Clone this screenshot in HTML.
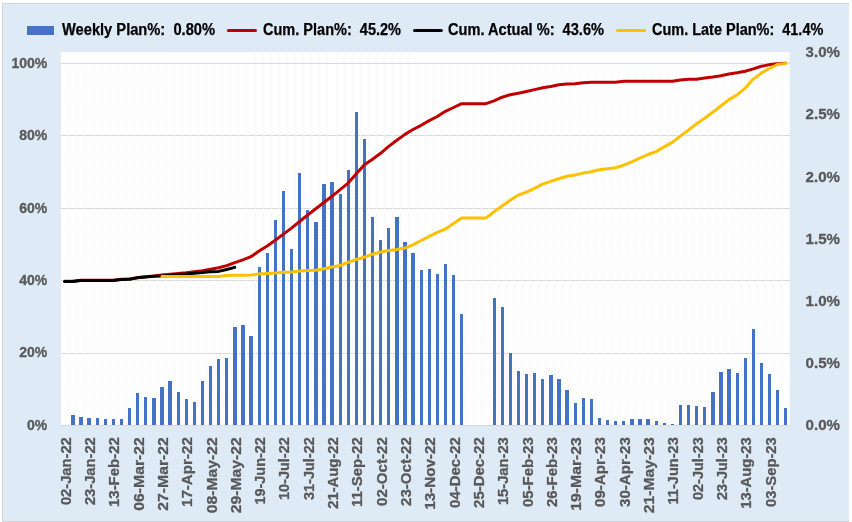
<!DOCTYPE html><html><head><meta charset="utf-8"><style>
html,body{margin:0;padding:0;background:#fff;width:852px;height:522px;overflow:hidden}
svg{display:block;will-change:transform}
text{font-family:"Liberation Sans",sans-serif;font-weight:bold;white-space:pre}
</style></head><body>
<svg width="852" height="522" viewBox="0 0 852 522">
<rect x="3" y="4" width="846" height="517" fill="#DEEBF7"/>
<rect x="2" y="3" width="847" height="1" fill="#D4D4D4"/>
<rect x="2" y="3" width="1" height="519" fill="#D4D4D4"/>
<rect x="2" y="521" width="847" height="1" fill="#D4D4D4"/>
<rect x="61" y="52" width="729" height="373" fill="#FFFFFF"/>
<path d="M60.5 52V425M68.5 52V425M76.5 52V425M84.5 52V425M93.5 52V425M101.5 52V425M109.5 52V425M117.5 52V425M125.5 52V425M133.5 52V425M141.5 52V425M149.5 52V425M157.5 52V425M165.5 52V425M174.5 52V425M182.5 52V425M190.5 52V425M198.5 52V425M206.5 52V425M214.5 52V425M222.5 52V425M230.5 52V425M238.5 52V425M246.5 52V425M255.5 52V425M263.5 52V425M271.5 52V425M279.5 52V425M287.5 52V425M295.5 52V425M303.5 52V425M311.5 52V425M319.5 52V425M327.5 52V425M336.5 52V425M344.5 52V425M352.5 52V425M360.5 52V425M368.5 52V425M376.5 52V425M384.5 52V425M392.5 52V425M400.5 52V425M408.5 52V425M417.5 52V425M425.5 52V425M433.5 52V425M441.5 52V425M449.5 52V425M457.5 52V425M465.5 52V425M473.5 52V425M481.5 52V425M489.5 52V425M498.5 52V425M506.5 52V425M514.5 52V425M522.5 52V425M530.5 52V425M538.5 52V425M546.5 52V425M554.5 52V425M562.5 52V425M570.5 52V425M579.5 52V425M587.5 52V425M595.5 52V425M603.5 52V425M611.5 52V425M619.5 52V425M627.5 52V425M635.5 52V425M643.5 52V425M651.5 52V425M660.5 52V425M668.5 52V425M676.5 52V425M684.5 52V425M692.5 52V425M700.5 52V425M708.5 52V425M716.5 52V425M724.5 52V425M732.5 52V425M741.5 52V425M749.5 52V425M757.5 52V425M765.5 52V425M773.5 52V425M781.5 52V425M789.5 52V425" stroke="#EEEEEE" stroke-width="1" stroke-dasharray="1 1.9" fill="none"/>
<rect x="61" y="63" width="729" height="1" fill="#D9D9D9"/>
<rect x="61" y="135" width="729" height="1" fill="#D9D9D9"/>
<rect x="61" y="208" width="729" height="1" fill="#D9D9D9"/>
<rect x="61" y="280" width="729" height="1" fill="#D9D9D9"/>
<rect x="61" y="353" width="729" height="1" fill="#D9D9D9"/>
<path d="M68 135h1v1h-1ZM68 208h1v1h-1ZM68 280h1v1h-1ZM68 353h1v1h-1ZM76 135h1v1h-1ZM76 208h1v1h-1ZM76 280h1v1h-1ZM76 353h1v1h-1ZM84 135h1v1h-1ZM84 208h1v1h-1ZM84 280h1v1h-1ZM84 353h1v1h-1ZM93 135h1v1h-1ZM93 208h1v1h-1ZM93 280h1v1h-1ZM93 353h1v1h-1ZM101 135h1v1h-1ZM101 208h1v1h-1ZM101 280h1v1h-1ZM101 353h1v1h-1ZM109 135h1v1h-1ZM109 208h1v1h-1ZM109 280h1v1h-1ZM109 353h1v1h-1ZM117 135h1v1h-1ZM117 208h1v1h-1ZM117 280h1v1h-1ZM117 353h1v1h-1ZM125 135h1v1h-1ZM125 208h1v1h-1ZM125 280h1v1h-1ZM125 353h1v1h-1ZM133 135h1v1h-1ZM133 208h1v1h-1ZM133 280h1v1h-1ZM133 353h1v1h-1ZM141 135h1v1h-1ZM141 208h1v1h-1ZM141 280h1v1h-1ZM141 353h1v1h-1ZM149 135h1v1h-1ZM149 208h1v1h-1ZM149 280h1v1h-1ZM149 353h1v1h-1ZM157 135h1v1h-1ZM157 208h1v1h-1ZM157 280h1v1h-1ZM157 353h1v1h-1ZM165 135h1v1h-1ZM165 208h1v1h-1ZM165 280h1v1h-1ZM165 353h1v1h-1ZM174 135h1v1h-1ZM174 208h1v1h-1ZM174 280h1v1h-1ZM174 353h1v1h-1ZM182 135h1v1h-1ZM182 208h1v1h-1ZM182 280h1v1h-1ZM182 353h1v1h-1ZM190 135h1v1h-1ZM190 208h1v1h-1ZM190 280h1v1h-1ZM190 353h1v1h-1ZM198 135h1v1h-1ZM198 208h1v1h-1ZM198 280h1v1h-1ZM198 353h1v1h-1ZM206 135h1v1h-1ZM206 208h1v1h-1ZM206 280h1v1h-1ZM206 353h1v1h-1ZM214 135h1v1h-1ZM214 208h1v1h-1ZM214 280h1v1h-1ZM214 353h1v1h-1ZM222 135h1v1h-1ZM222 208h1v1h-1ZM222 280h1v1h-1ZM222 353h1v1h-1ZM230 135h1v1h-1ZM230 208h1v1h-1ZM230 280h1v1h-1ZM230 353h1v1h-1ZM238 135h1v1h-1ZM238 208h1v1h-1ZM238 280h1v1h-1ZM238 353h1v1h-1ZM246 135h1v1h-1ZM246 208h1v1h-1ZM246 280h1v1h-1ZM246 353h1v1h-1ZM255 135h1v1h-1ZM255 208h1v1h-1ZM255 280h1v1h-1ZM255 353h1v1h-1ZM263 135h1v1h-1ZM263 208h1v1h-1ZM263 280h1v1h-1ZM263 353h1v1h-1ZM271 135h1v1h-1ZM271 208h1v1h-1ZM271 280h1v1h-1ZM271 353h1v1h-1ZM279 135h1v1h-1ZM279 208h1v1h-1ZM279 280h1v1h-1ZM279 353h1v1h-1ZM287 135h1v1h-1ZM287 208h1v1h-1ZM287 280h1v1h-1ZM287 353h1v1h-1ZM295 135h1v1h-1ZM295 208h1v1h-1ZM295 280h1v1h-1ZM295 353h1v1h-1ZM303 135h1v1h-1ZM303 208h1v1h-1ZM303 280h1v1h-1ZM303 353h1v1h-1ZM311 135h1v1h-1ZM311 208h1v1h-1ZM311 280h1v1h-1ZM311 353h1v1h-1ZM319 135h1v1h-1ZM319 208h1v1h-1ZM319 280h1v1h-1ZM319 353h1v1h-1ZM327 135h1v1h-1ZM327 208h1v1h-1ZM327 280h1v1h-1ZM327 353h1v1h-1ZM336 135h1v1h-1ZM336 208h1v1h-1ZM336 280h1v1h-1ZM336 353h1v1h-1ZM344 135h1v1h-1ZM344 208h1v1h-1ZM344 280h1v1h-1ZM344 353h1v1h-1ZM352 135h1v1h-1ZM352 208h1v1h-1ZM352 280h1v1h-1ZM352 353h1v1h-1ZM360 135h1v1h-1ZM360 208h1v1h-1ZM360 280h1v1h-1ZM360 353h1v1h-1ZM368 135h1v1h-1ZM368 208h1v1h-1ZM368 280h1v1h-1ZM368 353h1v1h-1ZM376 135h1v1h-1ZM376 208h1v1h-1ZM376 280h1v1h-1ZM376 353h1v1h-1ZM384 135h1v1h-1ZM384 208h1v1h-1ZM384 280h1v1h-1ZM384 353h1v1h-1ZM392 135h1v1h-1ZM392 208h1v1h-1ZM392 280h1v1h-1ZM392 353h1v1h-1ZM400 135h1v1h-1ZM400 208h1v1h-1ZM400 280h1v1h-1ZM400 353h1v1h-1ZM408 135h1v1h-1ZM408 208h1v1h-1ZM408 280h1v1h-1ZM408 353h1v1h-1ZM417 135h1v1h-1ZM417 208h1v1h-1ZM417 280h1v1h-1ZM417 353h1v1h-1ZM425 135h1v1h-1ZM425 208h1v1h-1ZM425 280h1v1h-1ZM425 353h1v1h-1ZM433 135h1v1h-1ZM433 208h1v1h-1ZM433 280h1v1h-1ZM433 353h1v1h-1ZM441 135h1v1h-1ZM441 208h1v1h-1ZM441 280h1v1h-1ZM441 353h1v1h-1ZM449 135h1v1h-1ZM449 208h1v1h-1ZM449 280h1v1h-1ZM449 353h1v1h-1ZM457 135h1v1h-1ZM457 208h1v1h-1ZM457 280h1v1h-1ZM457 353h1v1h-1ZM465 135h1v1h-1ZM465 208h1v1h-1ZM465 280h1v1h-1ZM465 353h1v1h-1ZM473 135h1v1h-1ZM473 208h1v1h-1ZM473 280h1v1h-1ZM473 353h1v1h-1ZM481 135h1v1h-1ZM481 208h1v1h-1ZM481 280h1v1h-1ZM481 353h1v1h-1ZM489 135h1v1h-1ZM489 208h1v1h-1ZM489 280h1v1h-1ZM489 353h1v1h-1ZM498 135h1v1h-1ZM498 208h1v1h-1ZM498 280h1v1h-1ZM498 353h1v1h-1ZM506 135h1v1h-1ZM506 208h1v1h-1ZM506 280h1v1h-1ZM506 353h1v1h-1ZM514 135h1v1h-1ZM514 208h1v1h-1ZM514 280h1v1h-1ZM514 353h1v1h-1ZM522 135h1v1h-1ZM522 208h1v1h-1ZM522 280h1v1h-1ZM522 353h1v1h-1ZM530 135h1v1h-1ZM530 208h1v1h-1ZM530 280h1v1h-1ZM530 353h1v1h-1ZM538 135h1v1h-1ZM538 208h1v1h-1ZM538 280h1v1h-1ZM538 353h1v1h-1ZM546 135h1v1h-1ZM546 208h1v1h-1ZM546 280h1v1h-1ZM546 353h1v1h-1ZM554 135h1v1h-1ZM554 208h1v1h-1ZM554 280h1v1h-1ZM554 353h1v1h-1ZM562 135h1v1h-1ZM562 208h1v1h-1ZM562 280h1v1h-1ZM562 353h1v1h-1ZM570 135h1v1h-1ZM570 208h1v1h-1ZM570 280h1v1h-1ZM570 353h1v1h-1ZM579 135h1v1h-1ZM579 208h1v1h-1ZM579 280h1v1h-1ZM579 353h1v1h-1ZM587 135h1v1h-1ZM587 208h1v1h-1ZM587 280h1v1h-1ZM587 353h1v1h-1ZM595 135h1v1h-1ZM595 208h1v1h-1ZM595 280h1v1h-1ZM595 353h1v1h-1ZM603 135h1v1h-1ZM603 208h1v1h-1ZM603 280h1v1h-1ZM603 353h1v1h-1ZM611 135h1v1h-1ZM611 208h1v1h-1ZM611 280h1v1h-1ZM611 353h1v1h-1ZM619 135h1v1h-1ZM619 208h1v1h-1ZM619 280h1v1h-1ZM619 353h1v1h-1ZM627 135h1v1h-1ZM627 208h1v1h-1ZM627 280h1v1h-1ZM627 353h1v1h-1ZM635 135h1v1h-1ZM635 208h1v1h-1ZM635 280h1v1h-1ZM635 353h1v1h-1ZM643 135h1v1h-1ZM643 208h1v1h-1ZM643 280h1v1h-1ZM643 353h1v1h-1ZM651 135h1v1h-1ZM651 208h1v1h-1ZM651 280h1v1h-1ZM651 353h1v1h-1ZM660 135h1v1h-1ZM660 208h1v1h-1ZM660 280h1v1h-1ZM660 353h1v1h-1ZM668 135h1v1h-1ZM668 208h1v1h-1ZM668 280h1v1h-1ZM668 353h1v1h-1ZM676 135h1v1h-1ZM676 208h1v1h-1ZM676 280h1v1h-1ZM676 353h1v1h-1ZM684 135h1v1h-1ZM684 208h1v1h-1ZM684 280h1v1h-1ZM684 353h1v1h-1ZM692 135h1v1h-1ZM692 208h1v1h-1ZM692 280h1v1h-1ZM692 353h1v1h-1ZM700 135h1v1h-1ZM700 208h1v1h-1ZM700 280h1v1h-1ZM700 353h1v1h-1ZM708 135h1v1h-1ZM708 208h1v1h-1ZM708 280h1v1h-1ZM708 353h1v1h-1ZM716 135h1v1h-1ZM716 208h1v1h-1ZM716 280h1v1h-1ZM716 353h1v1h-1ZM724 135h1v1h-1ZM724 208h1v1h-1ZM724 280h1v1h-1ZM724 353h1v1h-1ZM732 135h1v1h-1ZM732 208h1v1h-1ZM732 280h1v1h-1ZM732 353h1v1h-1ZM741 135h1v1h-1ZM741 208h1v1h-1ZM741 280h1v1h-1ZM741 353h1v1h-1ZM749 135h1v1h-1ZM749 208h1v1h-1ZM749 280h1v1h-1ZM749 353h1v1h-1ZM757 135h1v1h-1ZM757 208h1v1h-1ZM757 280h1v1h-1ZM757 353h1v1h-1ZM765 135h1v1h-1ZM765 208h1v1h-1ZM765 280h1v1h-1ZM765 353h1v1h-1ZM773 135h1v1h-1ZM773 208h1v1h-1ZM773 280h1v1h-1ZM773 353h1v1h-1ZM781 135h1v1h-1ZM781 208h1v1h-1ZM781 280h1v1h-1ZM781 353h1v1h-1Z" fill="#FFFFFF" fill-opacity="0.75"/>
<path d="M71 415H75V425H71ZM79 417H83V425H79ZM87 418H91V425H87ZM96 418H99V425H96ZM104 419H107V425H104ZM112 419H115V425H112ZM120 419H123V425H120ZM128 408H131V425H128ZM136 393H139V425H136ZM144 397H147V425H144ZM152 398H156V425H152ZM160 387H164V425H160ZM168 381H172V425H168ZM177 392H180V425H177ZM185 399H188V425H185ZM193 402H196V425H193ZM201 381H204V425H201ZM209 366H212V425H209ZM217 359H220V425H217ZM225 358H228V425H225ZM233 327H237V425H233ZM241 325H245V425H241ZM249 336H253V425H249ZM258 267H261V425H258ZM266 253H269V425H266ZM274 220H277V425H274ZM282 191H285V425H282ZM290 249H293V425H290ZM298 173H301V425H298ZM306 210H309V425H306ZM314 222H318V425H314ZM322 184H326V425H322ZM330 182H334V425H330ZM339 194H342V425H339ZM347 170H350V425H347ZM355 112H358V425H355ZM363 139H366V425H363ZM371 217H374V425H371ZM379 240H382V425H379ZM387 228H390V425H387ZM395 217H399V425H395ZM403 242H407V425H403ZM411 253H415V425H411ZM420 270H423V425H420ZM428 269H431V425H428ZM436 274H439V425H436ZM444 264H447V425H444ZM452 275H455V425H452ZM460 314H463V425H460ZM493 298H496V425H493ZM501 307H504V425H501ZM509 353H512V425H509ZM517 371H520V425H517ZM525 374H528V425H525ZM533 373H536V425H533ZM541 379H544V425H541ZM549 375H553V425H549ZM557 379H561V425H557ZM565 390H569V425H565ZM574 403H577V425H574ZM582 398H585V425H582ZM590 399H593V425H590ZM598 418H601V425H598ZM606 420H609V425H606ZM614 421H617V425H614ZM622 421H625V425H622ZM630 419H634V425H630ZM638 419H642V425H638ZM646 419H650V425H646ZM655 421H658V425H655ZM663 423H666V425H663ZM671 424H674V425H671ZM679 405H682V425H679ZM687 405H690V425H687ZM695 406H698V425H695ZM703 407H706V425H703ZM711 392H715V425H711ZM719 372H723V425H719ZM727 369H731V425H727ZM736 373H739V425H736ZM744 358H747V425H744ZM752 329H755V425H752ZM760 363H763V425H760ZM768 374H771V425H768ZM776 390H779V425H776ZM784 408H787V425H784Z" fill="#4472C4" shape-rendering="crispEdges"/>
<rect x="61" y="425" width="729" height="1" fill="#D9D9D9"/>
<polyline points="64.65,281.30 72.75,281.30 80.85,280.30 88.95,280.30 97.06,280.30 105.16,280.30 113.26,280.30 121.36,279.20 129.46,279.10 137.56,277.60 145.66,276.70 153.76,276.10 161.86,275.10 169.97,274.30 178.07,273.50 186.17,272.70 194.27,271.70 202.37,270.70 210.47,269.30 218.57,267.70 226.67,265.60 234.77,262.70 242.88,259.80 250.98,256.70 259.08,251.00 267.18,246.00 275.28,240.30 283.38,234.10 291.48,228.10 299.58,221.50 307.68,215.00 315.79,208.80 323.89,202.50 331.99,196.30 340.09,189.70 348.19,183.10 356.29,173.80 364.39,164.80 372.49,159.20 380.59,153.30 388.69,146.40 396.80,140.20 404.90,134.40 413.00,129.50 421.10,125.30 429.20,120.60 437.30,116.50 445.40,111.30 453.50,107.50 461.61,103.70 469.71,103.70 477.81,103.70 485.91,103.70 494.01,100.90 502.11,97.20 510.21,94.70 518.31,93.20 526.41,91.50 534.51,89.60 542.62,87.70 550.72,86.50 558.82,84.70 566.92,84.10 575.02,83.80 583.12,82.80 591.22,82.20 599.32,82.20 607.42,82.20 615.53,82.20 623.63,81.30 631.73,81.30 639.83,81.30 647.93,81.30 656.03,81.30 664.13,81.30 672.23,81.20 680.34,80.00 688.44,79.20 696.54,79.20 704.64,77.90 712.74,76.90 720.84,75.70 728.94,74.00 737.04,72.80 745.14,71.20 753.25,68.90 761.35,66.30 769.45,64.60 777.55,63.70 785.65,63.30" fill="none" stroke="#C00000" stroke-width="3" stroke-linejoin="round" stroke-linecap="round"/>
<polyline points="64.65,281.50 72.75,281.50 80.85,280.50 88.95,280.50 97.06,280.50 105.16,280.50 113.26,280.50 121.36,279.40 129.46,279.30 137.56,277.80 145.66,276.90 153.76,276.30 161.86,276.10 169.97,275.40 178.07,274.50 186.17,274.10 194.27,273.20 202.37,272.40 210.47,271.70 218.57,271.40 226.67,269.50 234.77,267.40" fill="none" stroke="#000000" stroke-width="3" stroke-linejoin="round" stroke-linecap="round"/>
<polyline points="161.86,276.50 169.97,276.50 178.07,276.50 186.17,276.50 194.27,276.50 202.37,276.50 210.47,276.50 218.57,276.50 226.67,275.60 234.77,275.30 242.88,275.30 250.98,274.90 259.08,274.10 267.18,273.50 275.28,273.00 283.38,272.20 291.48,272.00 299.58,271.10 307.68,270.40 315.79,270.20 323.89,268.80 331.99,267.00 340.09,265.50 348.19,262.30 356.29,259.50 364.39,257.20 372.49,254.20 380.59,252.00 388.69,250.60 396.80,249.50 404.90,248.10 413.00,244.90 421.10,240.50 429.20,236.30 437.30,232.40 445.40,229.00 453.50,223.60 461.61,218.10 469.71,218.10 477.81,218.10 485.91,218.10 494.01,211.70 502.11,206.00 510.21,200.20 518.31,195.10 526.41,192.20 534.51,188.40 542.62,184.20 550.72,181.30 558.82,178.80 566.92,176.20 575.02,175.00 583.12,173.10 591.22,171.80 599.32,169.80 607.42,168.80 615.53,167.70 623.63,165.20 631.73,161.90 639.83,158.10 647.93,154.50 656.03,151.60 664.13,146.90 672.23,142.40 680.34,136.10 688.44,130.10 696.54,123.80 704.64,118.30 712.74,112.30 720.84,106.00 728.94,99.60 737.04,94.90 745.14,88.20 753.25,79.10 761.35,73.10 769.45,68.30 777.55,64.50 785.65,63.40" fill="none" stroke="#FFC000" stroke-width="3" stroke-linejoin="round" stroke-linecap="round"/>
<text x="47.3" y="429.60" font-size="14" fill="#595959" stroke="#595959" stroke-width="0.3" text-anchor="end">0%</text>
<text x="47.3" y="357.32" font-size="14" fill="#595959" stroke="#595959" stroke-width="0.3" text-anchor="end">20%</text>
<text x="47.3" y="285.04" font-size="14" fill="#595959" stroke="#595959" stroke-width="0.3" text-anchor="end">40%</text>
<text x="47.3" y="212.76" font-size="14" fill="#595959" stroke="#595959" stroke-width="0.3" text-anchor="end">60%</text>
<text x="47.3" y="140.48" font-size="14" fill="#595959" stroke="#595959" stroke-width="0.3" text-anchor="end">80%</text>
<text x="47.3" y="68.20" font-size="14" fill="#595959" stroke="#595959" stroke-width="0.3" text-anchor="end">100%</text>
<text x="805.6" y="430.00" font-size="15.5" fill="#595959" stroke="#595959" stroke-width="0.3" textLength="34.4" lengthAdjust="spacingAndGlyphs">0.0%</text>
<text x="805.6" y="367.88" font-size="15.5" fill="#595959" stroke="#595959" stroke-width="0.3" textLength="34.4" lengthAdjust="spacingAndGlyphs">0.5%</text>
<text x="805.6" y="305.76" font-size="15.5" fill="#595959" stroke="#595959" stroke-width="0.3" textLength="34.4" lengthAdjust="spacingAndGlyphs">1.0%</text>
<text x="805.6" y="243.64" font-size="15.5" fill="#595959" stroke="#595959" stroke-width="0.3" textLength="34.4" lengthAdjust="spacingAndGlyphs">1.5%</text>
<text x="805.6" y="181.52" font-size="15.5" fill="#595959" stroke="#595959" stroke-width="0.3" textLength="34.4" lengthAdjust="spacingAndGlyphs">2.0%</text>
<text x="805.6" y="119.40" font-size="15.5" fill="#595959" stroke="#595959" stroke-width="0.3" textLength="34.4" lengthAdjust="spacingAndGlyphs">2.5%</text>
<text x="805.6" y="57.28" font-size="15.5" fill="#595959" stroke="#595959" stroke-width="0.3" textLength="34.4" lengthAdjust="spacingAndGlyphs">3.0%</text>
<text transform="translate(70.75,437.2) rotate(-90)" font-size="15" fill="#595959" stroke="#595959" stroke-width="0.3" text-anchor="end" textLength="67.90" lengthAdjust="spacingAndGlyphs">02-Jan-22</text>
<text transform="translate(95.05,437.2) rotate(-90)" font-size="15" fill="#595959" stroke="#595959" stroke-width="0.3" text-anchor="end" textLength="67.90" lengthAdjust="spacingAndGlyphs">23-Jan-22</text>
<text transform="translate(119.36,437.2) rotate(-90)" font-size="15" fill="#595959" stroke="#595959" stroke-width="0.3" text-anchor="end" textLength="69.80" lengthAdjust="spacingAndGlyphs">13-Feb-22</text>
<text transform="translate(143.66,437.2) rotate(-90)" font-size="15" fill="#595959" stroke="#595959" stroke-width="0.3" text-anchor="end" textLength="73.50" lengthAdjust="spacingAndGlyphs">06-Mar-22</text>
<text transform="translate(167.96,437.2) rotate(-90)" font-size="15" fill="#595959" stroke="#595959" stroke-width="0.3" text-anchor="end" textLength="73.50" lengthAdjust="spacingAndGlyphs">27-Mar-22</text>
<text transform="translate(192.27,437.2) rotate(-90)" font-size="15" fill="#595959" stroke="#595959" stroke-width="0.3" text-anchor="end" textLength="69.80" lengthAdjust="spacingAndGlyphs">17-Apr-22</text>
<text transform="translate(216.57,437.2) rotate(-90)" font-size="15" fill="#595959" stroke="#595959" stroke-width="0.3" text-anchor="end" textLength="76.00" lengthAdjust="spacingAndGlyphs">08-May-22</text>
<text transform="translate(240.87,437.2) rotate(-90)" font-size="15" fill="#595959" stroke="#595959" stroke-width="0.3" text-anchor="end" textLength="76.00" lengthAdjust="spacingAndGlyphs">29-May-22</text>
<text transform="translate(265.18,437.2) rotate(-90)" font-size="15" fill="#595959" stroke="#595959" stroke-width="0.3" text-anchor="end" textLength="67.30" lengthAdjust="spacingAndGlyphs">19-Jun-22</text>
<text transform="translate(289.48,437.2) rotate(-90)" font-size="15" fill="#595959" stroke="#595959" stroke-width="0.3" text-anchor="end" textLength="62.80" lengthAdjust="spacingAndGlyphs">10-Jul-22</text>
<text transform="translate(313.78,437.2) rotate(-90)" font-size="15" fill="#595959" stroke="#595959" stroke-width="0.3" text-anchor="end" textLength="62.80" lengthAdjust="spacingAndGlyphs">31-Jul-22</text>
<text transform="translate(338.09,437.2) rotate(-90)" font-size="15" fill="#595959" stroke="#595959" stroke-width="0.3" text-anchor="end" textLength="71.60" lengthAdjust="spacingAndGlyphs">21-Aug-22</text>
<text transform="translate(362.39,437.2) rotate(-90)" font-size="15" fill="#595959" stroke="#595959" stroke-width="0.3" text-anchor="end" textLength="69.80" lengthAdjust="spacingAndGlyphs">11-Sep-22</text>
<text transform="translate(386.69,437.2) rotate(-90)" font-size="15" fill="#595959" stroke="#595959" stroke-width="0.3" text-anchor="end" textLength="68.80" lengthAdjust="spacingAndGlyphs">02-Oct-22</text>
<text transform="translate(411.00,437.2) rotate(-90)" font-size="15" fill="#595959" stroke="#595959" stroke-width="0.3" text-anchor="end" textLength="68.80" lengthAdjust="spacingAndGlyphs">23-Oct-22</text>
<text transform="translate(435.30,437.2) rotate(-90)" font-size="15" fill="#595959" stroke="#595959" stroke-width="0.3" text-anchor="end" textLength="72.60" lengthAdjust="spacingAndGlyphs">13-Nov-22</text>
<text transform="translate(459.60,437.2) rotate(-90)" font-size="15" fill="#595959" stroke="#595959" stroke-width="0.3" text-anchor="end" textLength="70.70" lengthAdjust="spacingAndGlyphs">04-Dec-22</text>
<text transform="translate(483.91,437.2) rotate(-90)" font-size="15" fill="#595959" stroke="#595959" stroke-width="0.3" text-anchor="end" textLength="70.70" lengthAdjust="spacingAndGlyphs">25-Dec-22</text>
<text transform="translate(508.21,437.2) rotate(-90)" font-size="15" fill="#595959" stroke="#595959" stroke-width="0.3" text-anchor="end" textLength="67.90" lengthAdjust="spacingAndGlyphs">15-Jan-23</text>
<text transform="translate(532.51,437.2) rotate(-90)" font-size="15" fill="#595959" stroke="#595959" stroke-width="0.3" text-anchor="end" textLength="69.80" lengthAdjust="spacingAndGlyphs">05-Feb-23</text>
<text transform="translate(556.82,437.2) rotate(-90)" font-size="15" fill="#595959" stroke="#595959" stroke-width="0.3" text-anchor="end" textLength="69.80" lengthAdjust="spacingAndGlyphs">26-Feb-23</text>
<text transform="translate(581.12,437.2) rotate(-90)" font-size="15" fill="#595959" stroke="#595959" stroke-width="0.3" text-anchor="end" textLength="73.50" lengthAdjust="spacingAndGlyphs">19-Mar-23</text>
<text transform="translate(605.42,437.2) rotate(-90)" font-size="15" fill="#595959" stroke="#595959" stroke-width="0.3" text-anchor="end" textLength="69.80" lengthAdjust="spacingAndGlyphs">09-Apr-23</text>
<text transform="translate(629.73,437.2) rotate(-90)" font-size="15" fill="#595959" stroke="#595959" stroke-width="0.3" text-anchor="end" textLength="69.80" lengthAdjust="spacingAndGlyphs">30-Apr-23</text>
<text transform="translate(654.03,437.2) rotate(-90)" font-size="15" fill="#595959" stroke="#595959" stroke-width="0.3" text-anchor="end" textLength="76.00" lengthAdjust="spacingAndGlyphs">21-May-23</text>
<text transform="translate(678.33,437.2) rotate(-90)" font-size="15" fill="#595959" stroke="#595959" stroke-width="0.3" text-anchor="end" textLength="67.30" lengthAdjust="spacingAndGlyphs">11-Jun-23</text>
<text transform="translate(702.64,437.2) rotate(-90)" font-size="15" fill="#595959" stroke="#595959" stroke-width="0.3" text-anchor="end" textLength="62.80" lengthAdjust="spacingAndGlyphs">02-Jul-23</text>
<text transform="translate(726.94,437.2) rotate(-90)" font-size="15" fill="#595959" stroke="#595959" stroke-width="0.3" text-anchor="end" textLength="62.80" lengthAdjust="spacingAndGlyphs">23-Jul-23</text>
<text transform="translate(751.24,437.2) rotate(-90)" font-size="15" fill="#595959" stroke="#595959" stroke-width="0.3" text-anchor="end" textLength="71.60" lengthAdjust="spacingAndGlyphs">13-Aug-23</text>
<text transform="translate(775.55,437.2) rotate(-90)" font-size="15" fill="#595959" stroke="#595959" stroke-width="0.3" text-anchor="end" textLength="69.80" lengthAdjust="spacingAndGlyphs">03-Sep-23</text>
<rect x="27" y="26" width="27" height="9" fill="#4472C4"/>
<text x="62" y="34.8" font-size="16" fill="#000" stroke="#000" stroke-width="0.25" textLength="153" lengthAdjust="spacingAndGlyphs">Weekly Plan%:  0.80%</text>
<path d="M228.4 30.4H255.5" stroke="#C00000" stroke-width="3" stroke-linecap="round"/>
<text x="263" y="34.8" font-size="16" fill="#000" stroke="#000" stroke-width="0.25" textLength="138" lengthAdjust="spacingAndGlyphs">Cum. Plan%:  45.2%</text>
<path d="M414.5 30.4H441.4" stroke="#000000" stroke-width="3" stroke-linecap="round"/>
<text x="448" y="34.8" font-size="16" fill="#000" stroke="#000" stroke-width="0.25" textLength="156" lengthAdjust="spacingAndGlyphs">Cum. Actual %:  43.6%</text>
<path d="M617.5 30.4H644.6" stroke="#FFC000" stroke-width="3" stroke-linecap="round"/>
<text x="652" y="34.8" font-size="16" fill="#000" stroke="#000" stroke-width="0.25" textLength="171.3" lengthAdjust="spacingAndGlyphs">Cum. Late Plan%:  41.4%</text>
</svg></body></html>
